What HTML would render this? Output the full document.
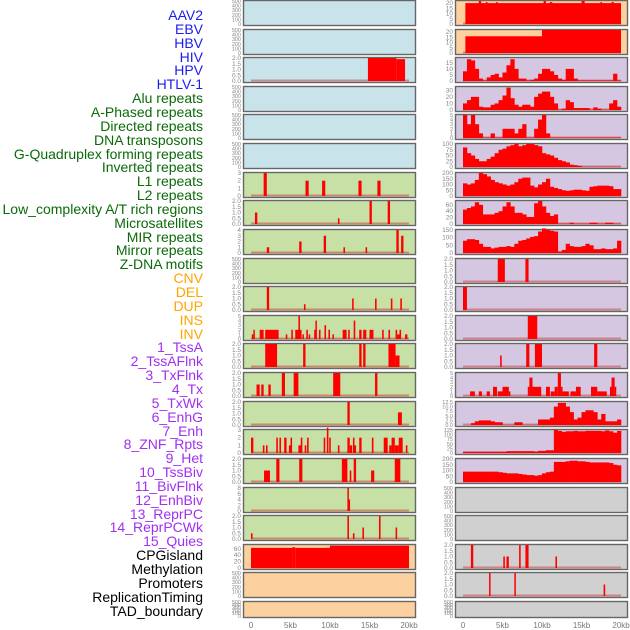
<!DOCTYPE html>
<html><head><meta charset="utf-8">
<style>
body{margin:0;background:#fff;width:630px;height:630px;overflow:hidden;font-family:"Liberation Sans",sans-serif}
#labels{position:absolute;left:0;top:0;width:203px}
.lb{position:absolute;right:0;font-size:14px;white-space:nowrap;line-height:14px}
svg{position:absolute;left:0;top:0}
</style></head><body>
<div id="labels"></div>
<svg id="chart" width="630" height="630"></svg>
<script>
const labelNames=["AAV2","EBV","HBV","HIV","HPV","HTLV-1","Alu repeats","A-Phased repeats","Directed repeats","DNA transposons","G-Quadruplex forming repeats","Inverted repeats","L1 repeats","L2 repeats","Low_complexity A/T rich regions","Microsatellites","MIR repeats","Mirror repeats","Z-DNA motifs","CNV","DEL","DUP","INS","INV","1_TssA","2_TssAFlnk","3_TxFlnk","4_Tx","5_TxWk","6_EnhG","7_Enh","8_ZNF_Rpts","9_Het","10_TssBiv","11_BivFlnk","12_EnhBiv","13_ReprPC","14_ReprPCWk","15_Quies","CPGisland","Methylation","Promoters","ReplicationTiming","TAD_boundary"];
const labelGroups=[6,13,5,15,5];
const groupColors=["#1c1cf0","#0a6a0a","#ffa500","#a030f0","#000"];
const xTicks=[0,5,10,15,20];
const xTickLabels=["0","5kb","10kb","15kb","20kb"];
// spans: [startKb,endKb,value]
const L2=[[14.8,18.4,2],[18.4,19.5,1.9]];
const L6=[[1.6,2.0,3],[6.9,7.3,2],[9.0,9.4,2],[13.6,14.0,2],[16.0,16.4,2]];
const L7=[[0.5,0.8,1],[11.0,11.2,0.5],[15.0,15.3,2],[17.3,17.6,2]];
const L8=[[2.0,2.3,1],[6.1,6.4,2],[9.2,9.5,3],[11.7,11.9,1],[14.5,14.7,1],[18.4,18.7,4],[19.0,19.3,3]];
const L10=[[2.0,2.3,2],[6.7,6.9,0.5],[12.8,13.0,1],[15.7,15.9,1],[17.7,17.9,1],[18.9,19.1,1]];
const L11=[[0.1,0.3,1],[0.3,0.4,2],[1.1,1.6,2],[1.8,3.5,2],[4.4,4.6,1],[5.1,5.3,2],[5.6,6.4,2],[6.0,6.2,5],[6.5,6.7,1],[7.0,7.2,2],[7.3,7.4,1],[8.0,8.3,2],[8.15,8.3,4],[8.6,8.8,2],[9.3,9.5,3],[9.8,10.0,2],[10.3,10.5,1],[11.6,12.1,2],[12.3,12.5,2],[13.0,13.2,4],[13.7,14.0,2],[14.2,14.6,2],[15.0,15.5,2],[16.6,16.8,2],[17.4,17.6,2],[18.3,18.5,2],[18.5,18.8,1],[18.8,19.0,2],[19.5,19.8,1]];
const L12=[[1.8,3.3,2],[6.6,6.9,2],[13.7,14.0,2],[14.2,14.5,2],[17.4,18.3,2],[18.3,18.8,1]];
const L13=[[0.7,1.1,1],[1.3,1.6,1],[2.2,2.5,1],[3.9,4.3,2],[5.4,6.0,2],[10.4,11.3,2],[15.7,16.0,2]];
const L14=[[12.2,12.5,2],[18.6,19.1,1.1]];
const L15=[[0.0,0.3,2],[1.5,1.7,1],[1.9,2.1,1],[3.2,3.4,2],[3.6,3.8,2],[4.2,4.5,2],[4.8,5.0,1],[5.0,5.2,2],[6.0,6.4,1],[6.3,6.5,2],[6.8,7.0,1],[7.1,7.3,2],[9.2,9.4,2],[9.6,9.8,3.3],[9.9,10.1,2],[11.0,11.2,1],[12.2,12.5,2],[12.5,12.8,1],[12.9,13.1,2],[13.1,13.3,1],[13.7,14.0,2],[15.3,15.5,2],[16.8,17.3,2],[17.5,17.8,1],[17.8,18.2,2],[18.2,18.7,1],[18.7,19.2,2],[19.6,19.8,1]];
const L16=[[1.65,2.4,1],[3.2,3.6,2],[6.1,6.5,2],[11.5,12.2,2],[12.5,12.7,1],[13.0,13.3,2],[15.2,15.6,1],[18.2,18.9,2]];
const L17=[[12.2,12.35,8],[12.35,12.5,4]];
const L18=[[0.0,0.2,0.5],[12.2,12.4,2],[12.9,13.1,0.5],[14.1,14.3,1],[16.2,16.4,2],[18.3,18.5,1]];
const L19=[[0,5.2,63],[5.2,5.6,65],[5.6,10,63],[10,20,70]];
const R0=[[0.3,20,20],[2.0,2.3,22],[2.9,3.1,21],[4.2,4.4,21],[10.2,10.5,22],[11.0,11.3,21],[15.0,15.4,22],[17.4,17.6,21],[18.8,19.1,21]];
const R1=[[0.3,10,16],[10,20,22]];
const R2=[8,18,17,10,2,0.5,3,5,6,3,7,13,18,10,2,2,0.5,1,2,6,10,10,8,5,2,1,10,10,2,0.5,0.5,0.5,0.5,0.5,0.5,0.5,0.5,0.5,6,0.5];
const R3=[10,15,20,20,5,4,4,8,10,15,22,34,18,8,5,8,8,5,20,25,28,28,20,10,0.5,2,15,12,3,3,3,3,0.5,4,2,0.5,0.5,10,15,5];
const R4=[5,3,5,3,1,0.1,0.1,1,0.1,0.1,2,2,2,1,2,3,0.1,0.1,2,4,5,1,0.1,0.1,0.1,0.1,0.1,0.1,0.1,0.1,0.1,0.1,0.1,0.1,0.1,0.1,0.1,0.1,0.1,0.1];
const R5=[85,60,50,35,25,25,35,45,60,75,80,90,95,100,90,95,100,100,95,90,60,55,50,40,30,25,20,10,8,5,1,1,1,1,1,1,1,1,1,1];
const R6=[110,100,110,140,200,190,170,140,120,110,100,90,100,120,150,160,160,90,75,100,120,150,80,70,60,50,45,50,55,55,50,45,80,85,90,90,90,85,60,60];
const R7=[45,50,55,68,60,30,30,30,35,40,55,68,55,35,35,30,22,22,65,72,55,35,25,30,1,1,1,4,1,1,1,1,4,4,1,1,4,4,1,1];
const R8=[80,90,90,85,60,40,40,30,35,40,40,45,40,60,80,85,95,105,110,140,160,150,145,140,10,20,60,45,40,40,45,60,50,25,25,30,25,25,30,80];
const R9=[[4.4,5.3,2],[7.9,8.3,2]];
const R10=[[0.0,0.5,2]];
const R11=[[8.2,9.4,2]];
const R12=[[4.7,4.9,1],[8.0,8.4,2],[9.1,10.0,2],[16.6,17.0,2]];
const R13=[[0.9,1.5,1],[2.0,2.4,1],[3.0,3.4,1],[3.8,4.3,2],[4.4,5.0,1],[5.0,5.8,2],[5.8,6.0,1],[8.2,8.4,2],[8.4,8.8,4],[8.8,9.9,2],[10.5,11.0,2],[11.1,11.6,1],[11.6,12.0,2],[12.0,12.4,5],[12.4,12.6,2],[12.6,13.4,1],[13.6,14.3,1],[14.3,14.9,2],[16.2,17.0,2],[17.0,18.2,1],[18.6,18.8,2],[18.8,19.2,4],[19.2,19.4,2]];
const R14=[0,0,1,2,2.5,2.5,2.5,2,1.5,1.5,0.1,0.1,0.1,1.5,1.5,0.1,0.1,0.1,0.1,3,3,3,4,10,12,12,10,7,3,4,7,8,8,7,3,6,2,2,2,3];
const R15=[7,7,7,7,7,7,7,7,7,7,7,10,10,10,10,10,10,10,8,12,12,15,15,125,120,115,118,118,120,118,118,120,120,120,120,118,122,118,110,120];
const R16=[90,90,90,90,90,90,90,90,90,85,80,75,75,75,70,65,60,60,55,60,75,85,90,175,175,175,180,185,185,180,180,175,170,170,170,170,170,165,150,145];
const R19=[[1.0,1.3,2],[5.1,5.3,1],[5.5,5.8,1],[7.1,7.3,2],[7.9,8.3,2],[11.7,11.9,1]];
const R20=[[3.3,3.45,2],[6.5,6.65,2],[17.8,18.0,1]];
const T500=[0,100,200,300,400,500], T2=[0,0.5,1,1.5,2];
const B="#c9e3eb",G="#c7e0a5",O="#fdd09f",P="#d5c7e2",Y="#d0d0d0";
const leftPanels=[
 [B,T500,null],[B,T500,null],[B,T2,L2],[B,T500,null],[B,T500,null],[B,T500,null],
 [G,[0,1,2,3],L6],[G,T2,L7],[G,[0,1,2,3,4],L8],[G,T500,null],[G,T2,L10],[G,[0,1,2,3,4,5],L11],
 [G,T2,L12],[G,T2,L13],[G,T2,L14],[G,[0,1,2,3],L15],[G,T2,L16],[G,[0,2,4,6,8],L17],[G,T2,L18],
 [O,[0,20,40,60],L19,72],[O,T500,null],[O,T500,null]];
const rightPanels=[
 [O,[0,5,10,15,20],R0,22],[O,[0,5,10,15,20],R1,22],[P,[0,5,10,15],R2,19],[P,[0,10,20,30],R3,35],
 [P,[0,1,2,3,4,5],R4],[P,[0,25,50,75,100],R5],[P,[0,50,100,150,200],R6],[P,[0,20,40,60],R7,72],
 [P,[0,50,100,150],R8],[P,T2,R9],[P,T2,R10],[P,T2,R11],[P,T2,R12],[P,[0,1,2,3,4,5],R13],
 [P,[0,2.5,5,7.5,10,12.5],R14],[P,[0,25,50,75,100,125],R15],[P,[0,50,100,150,200],R16],
 [Y,T500,null],[Y,T500,null],[Y,T2,R19],[Y,T2,R20],[Y,T500,null]];

const lab=document.getElementById('labels');
let gi=0,gc=0;
labelNames.forEach((n,i)=>{
  const d=document.createElement('div');
  d.className='lb';d.textContent=n;
  d.style.top=(8+i*13.85)+'px';
  d.style.color=groupColors[gi];
  
  
  lab.appendChild(d);
  gc++; if(gc>=labelGroups[gi]){gi++;gc=0;}
});
const svg=document.getElementById('chart');
const NS="http://www.w3.org/2000/svg";
function mk(t,a){const e=document.createElementNS(NS,t);for(const k in a)e.setAttribute(k,a[k]);svg.appendChild(e);return e;}
function drawCol(panels,fx,x0,tickX,side){
  const xs=kb=>x0+kb*7.9;
  panels.forEach((p,i)=>{
    const top=Math.round(i*28.62), h=(i===21)?16:25;
    const [bg,ticks,data,ymaxO]=p;
    const ymax=ymaxO||ticks[ticks.length-1];
    const y=v=>top+h-1-(v/ymax)*(h-2);
    const r=mk('rect',{x:fx,y:top+0.5,width:172,height:h,fill:bg,stroke:'#666','stroke-width':1.4});
    
    
    const dec=ticks.some(t=>t%1!==0)?1:0;
    const fs=ticks.length>5?5.5:6.5;
    ticks.forEach(t=>{
      const tx=mk('text',{x:tickX,y:y(t)+2,'font-size':fs,fill:'#888','text-anchor':'end'});
      tx.textContent=t.toFixed(dec);
      
      
    });
    if(!data) return;
    const bl=mk('line',{x1:xs(0),x2:xs(20),y1:y(0)-0.5,y2:y(0)-0.5,stroke:'rgba(200,70,70,0.55)','stroke-width':2});
    
    
    if(typeof data[0]==='number'){
      data.forEach((v,k)=>{
        const b=mk('rect',{x:xs(k*0.5),y:y(v),width:7.9*0.5+0.3,height:y(0)-y(v),fill:'#ff0000'});
        
        
      });
    } else {
      data.forEach(([s,e,v])=>{
        const b=mk('rect',{x:xs(s),y:y(v),width:Math.max(1.5,(e-s)*7.9),height:y(0)-y(v),fill:'#ff0000'});
        
        
      });
    }
  });
  xTicks.forEach((t,k)=>{
    const tx=mk('text',{x:xs(t),y:628,'font-size':8,fill:'#777','text-anchor':'middle'});
    tx.textContent=xTickLabels[k];
    
    
  });
}
drawCol(leftPanels,243.5,251,241,'left');
drawCol(rightPanels,455.5,463,453,'right');
</script>
</body></html>
